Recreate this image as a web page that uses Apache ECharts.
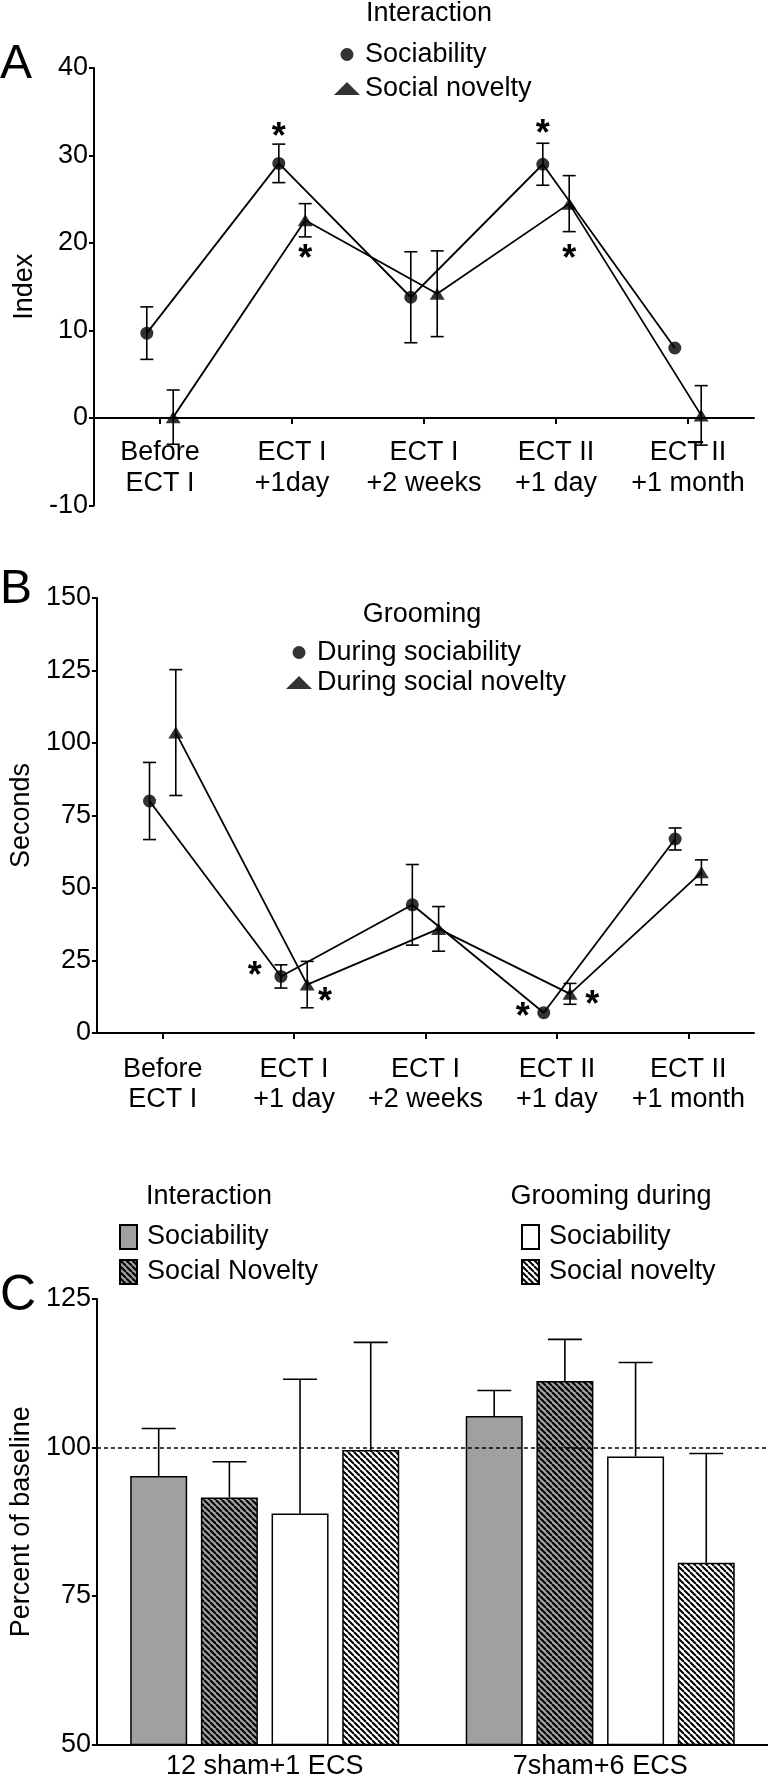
<!DOCTYPE html>
<html><head><meta charset="utf-8">
<script src="https://cdn.jsdelivr.net/npm/echarts@6/dist/echarts.min.js"></script>
<style>html,body{margin:0;padding:0;background:#fff}#c{width:768px;height:1780px}</style>
</head><body><div id="c"></div>
<script>
// ---------- DATA ----------
const catsA = ['Before\nECT I', 'ECT I\n+1day', 'ECT I\n+2 weeks', 'ECT II\n+1 day', 'ECT II\n+1 month'];
const yTicksA = [-10, 0, 10, 20, 30, 40];
const socA = [9.7, 29.1, 13.8, 29.0, 8.0];
const socAErr = [3.0, 2.2, 5.2, 2.4, 0];
const novA = [0.1, 22.6, 14.2, 24.5, 0.3];
const novAErr = [3.1, 1.9, 4.9, 3.2, 3.4];
const starsA = [[1, 32.9], [1, 19.0], [3, 33.3], [3, 19.0]];

const catsB = ['Before\nECT I', 'ECT I\n+1 day', 'ECT I\n+2 weeks', 'ECT II\n+1 day', 'ECT II\n+1 month'];
const yTicksB = [0, 25, 50, 75, 100, 125, 150];
const socB = [80.0, 19.5, 44.2, 7.0, 66.9];
const socBErr = [13.3, 4.0, 13.9, 0, 3.8];
const novB = [103.6, 16.7, 35.9, 13.5, 55.4];
const novBErr = [21.7, 8.0, 7.7, 3.6, 4.3];
const starsB = [[1, 22.0], [1, 13.0], [3, 8.0], [3, 12.0]];

const groupsC = ['12 sham+1 ECS', '7sham+6 ECS'];
const yTicksC = [50, 75, 100, 125];
const interSoc = [95.2, 105.3], interSocErr = [8.0, 4.3];
const interNov = [91.6, 111.2], interNovErr = [6.0, 7.0];
const groomSoc = [88.9, 98.5], groomSocErr = [22.6, 15.8];
const groomNov = [99.6, 80.6], groomNovErr = [18.1, 18.4];
const baselineC = 100;

// ---------- STYLE / LAYOUT ----------
const FONT = '"Liberation Sans", Arial, Helvetica, sans-serif';
const FS = 27;
const OFF = 0.1;                       // point offset inside a category
const starOffA = [-0.1, 0.1, -0.1, 0.1];
const starOffB = [-0.3, 0.236, -0.26, 0.27];
const BAR_W = 57, BAR_GAP = 0.24;

function hatch(bg) {
  const c = document.createElement('canvas');
  c.width = 6; c.height = 6;
  const g = c.getContext('2d');
  g.fillStyle = bg; g.fillRect(0, 0, 6, 6);
  g.strokeStyle = '#000'; g.lineWidth = 2;
  for (const o of [-6, 0, 6]) { g.beginPath(); g.moveTo(o, 0); g.lineTo(o + 6, 6); g.stroke(); }
  return c;
}
const GREY = '#a0a0a0';
const hatchGrey = { image: hatch(GREY), repeat: 'repeat' };
const hatchWhite = { image: hatch('#ffffff'), repeat: 'repeat' };

function catAxis(grid, data, margin, lh, offset) {
  return {
    type: 'category', gridIndex: grid, data: data, boundaryGap: true, offset: offset,
    axisLine: { onZero: false, lineStyle: { color: '#000', width: 2 } },
    axisTick: { show: true, alignWithLabel: true, length: 6, lineStyle: { color: '#000', width: 2 } },
    axisLabel: { color: '#000', fontSize: FS, fontFamily: FONT, lineHeight: lh, margin: margin, interval: 0 },
    splitLine: { show: false }
  };
}
function valAxis(grid, ticks, name, gap) {
  return {
    type: 'value', gridIndex: grid, min: ticks[0], max: ticks[ticks.length - 1], interval: ticks[1] - ticks[0],
    axisLine: { show: true, onZero: false, lineStyle: { color: '#000', width: 2 } },
    axisTick: { show: true, length: 5, lineStyle: { color: '#000', width: 2 } },
    axisLabel: { color: '#000', fontSize: FS, fontFamily: FONT, margin: 6 },
    splitLine: { show: false },
    name: name, nameLocation: 'middle', nameGap: gap,
    nameTextStyle: { color: '#000', fontSize: FS, fontFamily: FONT }
  };
}
function errRender(capHalf) {
  return function (params, api) {
    const x = api.value(0), y = api.value(1), e = api.value(2);
    if (!e) return null;
    const t = api.coord([x, y + e]), b = api.coord([x, y - e]);
    const st = { stroke: '#000', lineWidth: 1.6 };
    return { type: 'group', children: [
      { type: 'line', shape: { x1: t[0], y1: t[1], x2: b[0], y2: b[1] }, style: st },
      { type: 'line', shape: { x1: t[0] - capHalf, y1: t[1], x2: t[0] + capHalf, y2: t[1] }, style: st },
      { type: 'line', shape: { x1: b[0] - capHalf, y1: b[1], x2: b[0] + capHalf, y2: b[1] }, style: st }
    ]};
  };
}
function starRender(params, api) {
  const p = api.coord([api.value(0), api.value(1)]);
  return { type: 'text', x: p[0], y: p[1] + 8,
    style: { text: '*', fill: '#000', font: 'bold 36px ' + FONT, align: 'center', verticalAlign: 'middle' } };
}
function barErrRender(k) {
  return function (params, api) {
    const i = api.value(0), v = api.value(1), e = api.value(2);
    const gap = BAR_W * BAR_GAP;
    const total = 4 * BAR_W + 3 * gap;
    const c = api.coord([i, v]), t = api.coord([i, v + e]);
    const x = c[0] - total / 2 + k * (BAR_W + gap) + BAR_W / 2;
    const st = { stroke: '#000', lineWidth: 1.6 };
    return { type: 'group', children: [
      { type: 'line', shape: { x1: x, y1: c[1], x2: x, y2: t[1] }, style: st },
      { type: 'line', shape: { x1: x - 17, y1: t[1], x2: x + 17, y2: t[1] }, style: st }
    ]};
  };
}
function pts(vals, off) { return vals.map((v, i) => [i + off, v]); }
function errPts(vals, errs, off) { return vals.map((v, i) => [i + off, v, errs[i]]); }
function lineSeries(name, xi, yi, vals, off) {
  return { type: 'line', name: name, xAxisIndex: xi, yAxisIndex: yi, data: pts(vals, off),
    symbol: 'none', showSymbol: false, lineStyle: { color: '#000', width: 1.8 }, z: 2, animation: false };
}
function errSeries(xi, yi, vals, errs, off) {
  return { type: 'custom', xAxisIndex: xi, yAxisIndex: yi, data: errPts(vals, errs, off),
    encode: { x: 0, y: 1 }, renderItem: errRender(6.5), z: 3, clip: false };
}
function dotSeries(name, xi, yi, vals, off, sym, size) {
  return { type: 'scatter', name: name, xAxisIndex: xi, yAxisIndex: yi, data: pts(vals, off),
    symbol: sym, symbolSize: size, itemStyle: { color: '#000' }, z: 5 };
}
function starSeries(xi, yi, stars, offs) {
  return { type: 'custom', xAxisIndex: xi, yAxisIndex: yi,
    data: stars.map((s, j) => [s[0] + offs[j], s[1]]), encode: { x: 0, y: 1 },
    renderItem: starRender, z: 6, clip: false };
}
function barSeries(name, vals, color) {
  return { type: 'bar', name: name, xAxisIndex: 4, yAxisIndex: 2, data: vals,
    barWidth: BAR_W, barGap: (BAR_GAP * 100) + '%',
    itemStyle: { color: color, borderColor: '#000', borderWidth: 1.5 }, z: 2 };
}
function barErr(k, vals, errs) {
  return { type: 'custom', xAxisIndex: 4, yAxisIndex: 2, data: vals.map((v, i) => [i, v, errs[i]]),
    encode: { x: 0, y: 1 }, renderItem: barErrRender(k), z: 1, clip: false };
}
const legText = { color: '#000', fontSize: FS, fontFamily: FONT, lineHeight: 27 };
const CIRC = 13, TRI = [15, 12];

const chart = echarts.init(document.getElementById('c'), null, { renderer: 'canvas', width: 768, height: 1780 });
const bar1 = barSeries('Interaction Sociability', interSoc, GREY);
bar1.markLine = { silent: true, symbol: ['none', 'none'], label: { show: false },
  lineStyle: { type: [4, 3], color: '#000', width: 1.5 }, data: [{ yAxis: baselineC }], z: 10 };

// panel A grid: y from -10 (bottom) to 40 (top); x axis line sits at y = 0
const gridA = { left: 94, width: 660, top: 68, height: 437.5 };
const zeroOffsetA = -gridA.height * (0 - yTicksA[0]) / (yTicksA[yTicksA.length - 1] - yTicksA[0]);

chart.setOption({
  animation: false,
  backgroundColor: '#fff',
  textStyle: { fontFamily: FONT, color: '#000' },
  grid: [
    gridA,
    { left: 94, width: 660, top: 598, height: 435 },
    { left: 94, width: 674, top: 1299, height: 447 }
  ],
  xAxis: [
    catAxis(0, catsA, 19.5, 31, zeroOffsetA),
    { type: 'value', gridIndex: 0, min: -0.5, max: 4.5, show: false },
    catAxis(1, catsB, 22, 30, 0),
    { type: 'value', gridIndex: 1, min: -0.5, max: 4.5, show: false },
    { type: 'category', gridIndex: 2, data: groupsC, boundaryGap: true,
      axisLine: { onZero: false, lineStyle: { color: '#000', width: 2 } },
      axisTick: { show: false },
      axisLabel: { color: '#000', fontSize: FS, fontFamily: FONT, margin: 8.5, interval: 0 } }
  ],
  yAxis: [
    valAxis(0, yTicksA, 'Index', 53),
    valAxis(1, yTicksB, 'Seconds', 59),
    valAxis(2, yTicksC, 'Percent of baseline', 58)
  ],
  legend: [
    { orient: 'vertical', left: 329, top: 36, itemWidth: 26, itemHeight: 13, itemGap: 7, selectedMode: false,
      data: [{ name: 'Sociability', icon: 'circle' }, { name: 'Social novelty', icon: 'triangle' }],
      textStyle: legText },
    { orient: 'vertical', left: 281, top: 634, itemWidth: 26, itemHeight: 13, itemGap: 3, selectedMode: false,
      data: [{ name: 'During sociability', icon: 'circle' }, { name: 'During social novelty', icon: 'triangle' }],
      textStyle: legText },
    { orient: 'vertical', left: 114, top: 1218.5, itemWidth: 17, itemHeight: 24, itemGap: 8, selectedMode: false,
      symbolKeepAspect: false,
      data: [{ name: 'Interaction Sociability', icon: 'rect' }, { name: 'Interaction Social Novelty', icon: 'rect' }],
      formatter: n => n.replace(/^Interaction /, ''),
      textStyle: Object.assign({ padding: [0, 0, 0, 5] }, legText) },
    { orient: 'vertical', left: 516, top: 1218.5, itemWidth: 17, itemHeight: 24, itemGap: 8, selectedMode: false,
      symbolKeepAspect: false,
      data: [{ name: 'Grooming Sociability', icon: 'rect' }, { name: 'Grooming Social novelty', icon: 'rect' }],
      formatter: n => n.replace(/^Grooming /, ''),
      textStyle: Object.assign({ padding: [0, 0, 0, 5] }, legText) }
  ],
  graphic: [
    { type: 'text', x: 0, y: 64.5, style: { text: 'A', font: '48px ' + FONT, fill: '#000', align: 'left', verticalAlign: 'middle' } },
    { type: 'text', x: 0, y: 589.5, style: { text: 'B', font: '48px ' + FONT, fill: '#000', align: 'left', verticalAlign: 'middle' } },
    { type: 'text', x: 0, y: 1296, style: { text: 'C', font: '50px ' + FONT, fill: '#000', align: 'left', verticalAlign: 'middle' } },
    { type: 'text', x: 429, y: 13.5, style: { text: 'Interaction', font: FS + 'px ' + FONT, fill: '#000', align: 'center', verticalAlign: 'middle' } },
    { type: 'text', x: 422, y: 615, style: { text: 'Grooming', font: FS + 'px ' + FONT, fill: '#000', align: 'center', verticalAlign: 'middle' } },
    { type: 'text', x: 209, y: 1197, style: { text: 'Interaction', font: FS + 'px ' + FONT, fill: '#000', align: 'center', verticalAlign: 'middle' } },
    { type: 'text', x: 611, y: 1197, style: { text: 'Grooming during', font: FS + 'px ' + FONT, fill: '#000', align: 'center', verticalAlign: 'middle' } }
  ],
  series: [
    lineSeries('lineA1', 1, 0, socA, -OFF),
    lineSeries('lineA2', 1, 0, novA, OFF),
    errSeries(1, 0, socA, socAErr, -OFF),
    errSeries(1, 0, novA, novAErr, OFF),
    dotSeries('Sociability', 1, 0, socA, -OFF, 'circle', CIRC),
    dotSeries('Social novelty', 1, 0, novA, OFF, 'triangle', TRI),
    starSeries(1, 0, starsA, starOffA),

    lineSeries('lineB1', 3, 1, socB, -OFF),
    lineSeries('lineB2', 3, 1, novB, OFF),
    errSeries(3, 1, socB, socBErr, -OFF),
    errSeries(3, 1, novB, novBErr, OFF),
    dotSeries('During sociability', 3, 1, socB, -OFF, 'circle', CIRC),
    dotSeries('During social novelty', 3, 1, novB, OFF, 'triangle', TRI),
    starSeries(3, 1, starsB, starOffB),

    bar1,
    barSeries('Interaction Social Novelty', interNov, hatchGrey),
    barSeries('Grooming Sociability', groomSoc, '#ffffff'),
    barSeries('Grooming Social novelty', groomNov, hatchWhite),
    barErr(0, interSoc, interSocErr),
    barErr(1, interNov, interNovErr),
    barErr(2, groomSoc, groomSocErr),
    barErr(3, groomNov, groomNovErr)
  ]
});
</script>
</body></html>
